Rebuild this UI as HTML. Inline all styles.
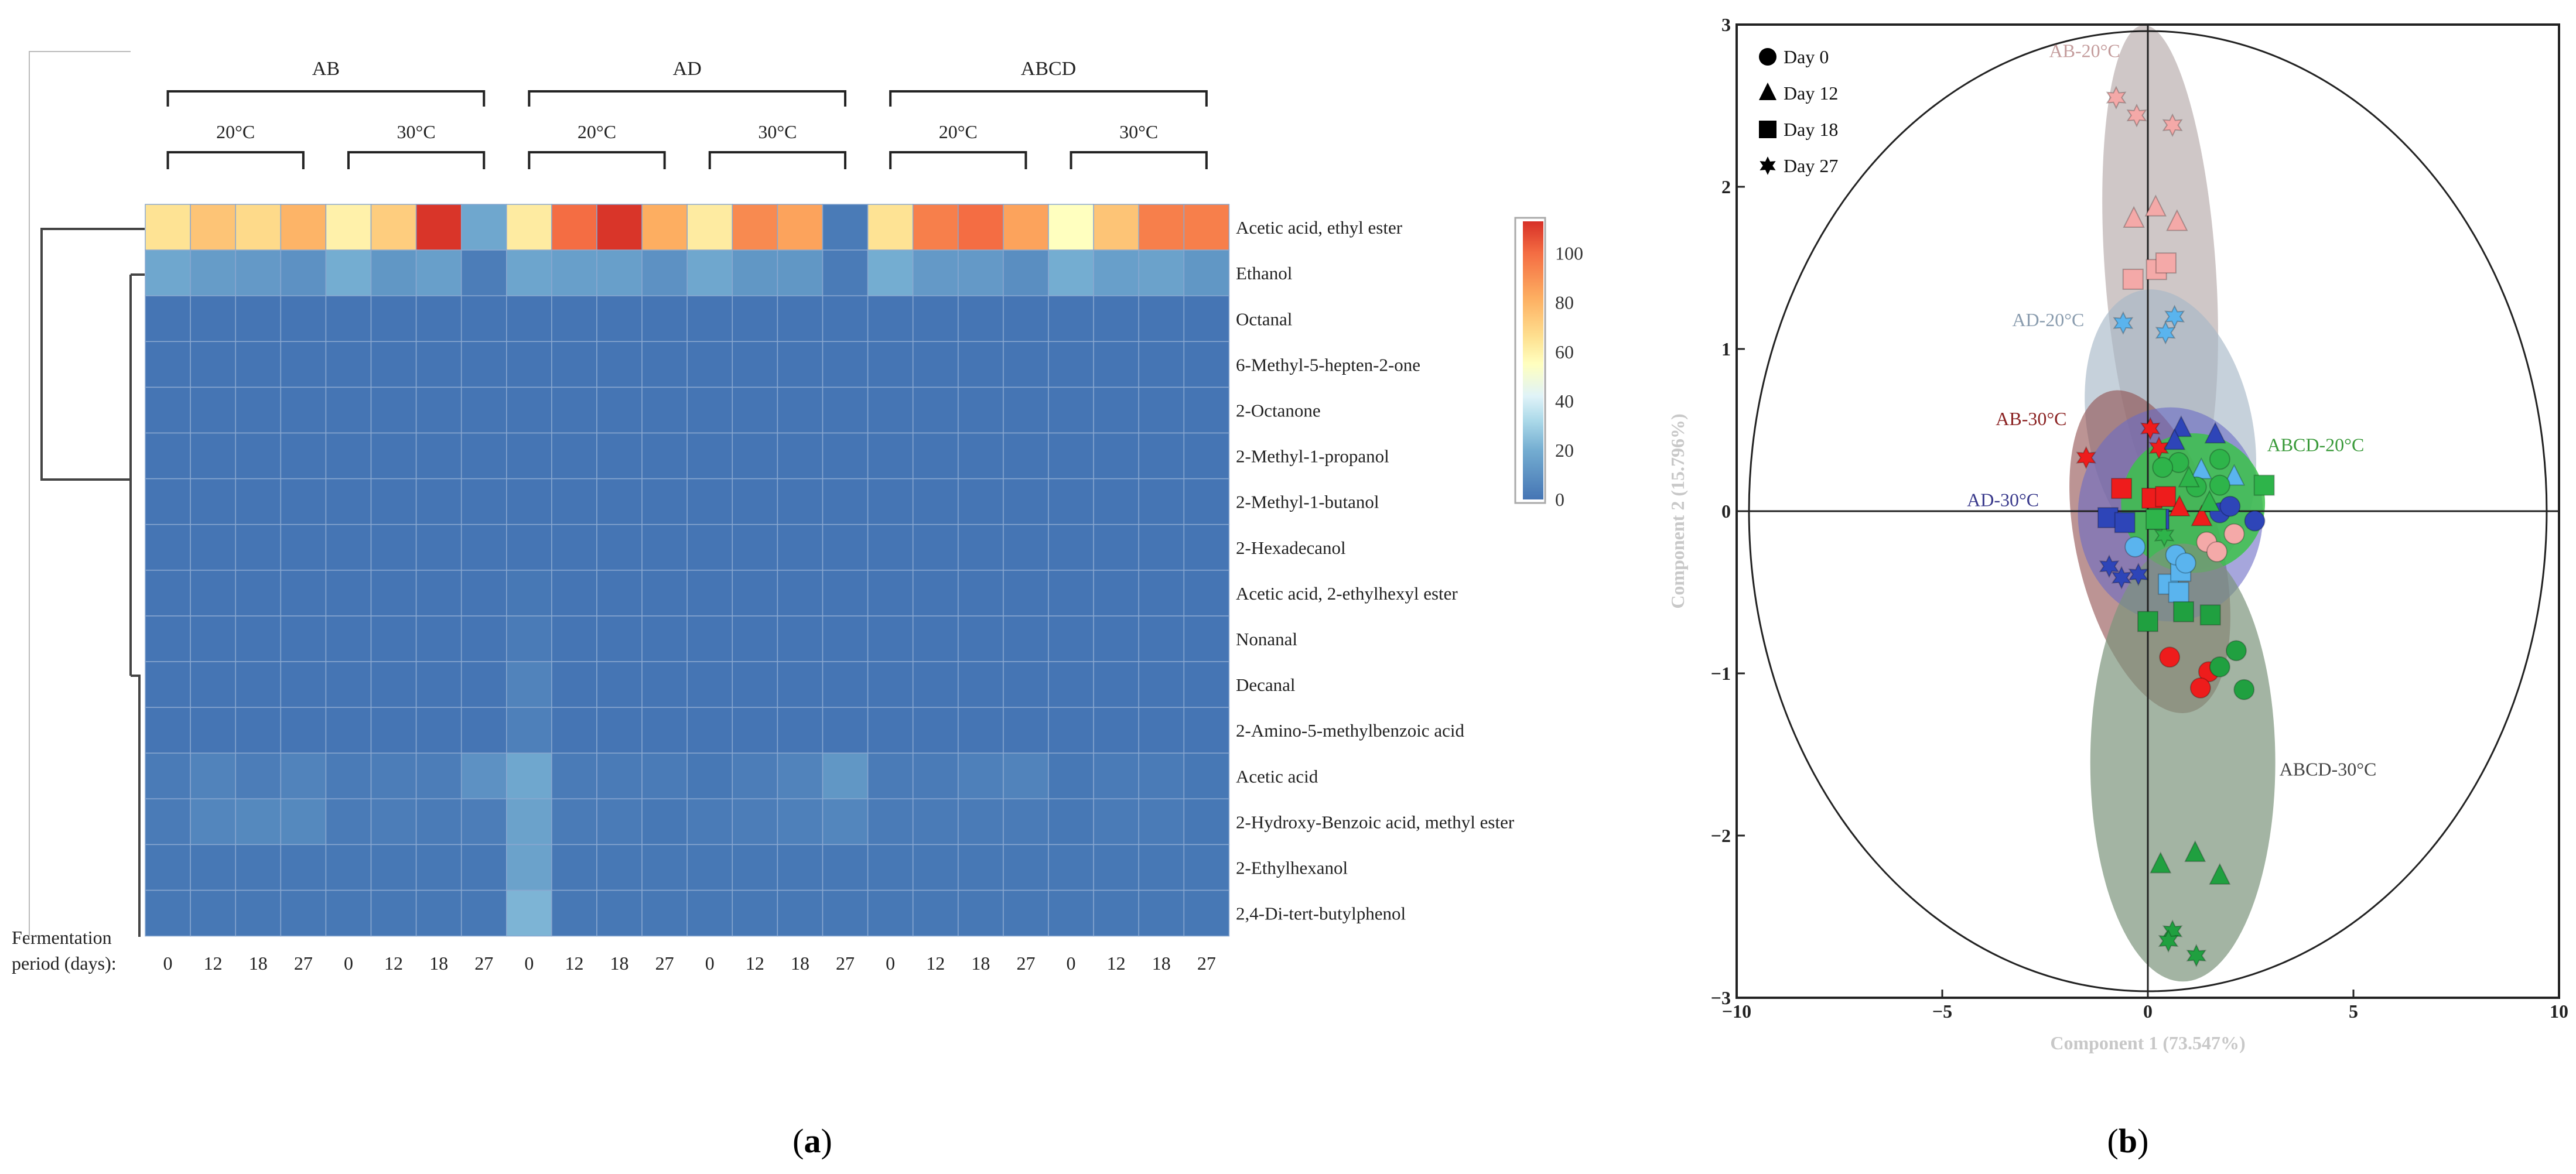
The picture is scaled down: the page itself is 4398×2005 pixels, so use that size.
<!DOCTYPE html>
<html><head><meta charset="utf-8"><style>
html,body{margin:0;padding:0;background:#fff}
svg{display:block}
text{font-family:"Liberation Serif",serif}
</style></head><body>
<svg id="fig" width="4398" height="2005" viewBox="0 0 4398 2005" xmlns="http://www.w3.org/2000/svg">
<g id="heat"></g>
<g id="pca"></g>
<text x="1387" y="1968" font-size="58" text-anchor="middle">(<tspan font-weight="bold">a</tspan>)</text>
<text x="3633" y="1968" font-size="58" text-anchor="middle">(<tspan font-weight="bold">b</tspan>)</text>
</svg>
<script>
const compounds=["Acetic acid, ethyl ester","Ethanol","Octanal","6-Methyl-5-hepten-2-one","2-Octanone","2-Methyl-1-propanol","2-Methyl-1-butanol","2-Hexadecanol","Acetic acid, 2-ethylhexyl ester","Nonanal","Decanal","2-Amino-5-methylbenzoic acid","Acetic acid","2-Hydroxy-Benzoic acid, methyl ester","2-Ethylhexanol","2,4-Di-tert-butylphenol"];
const days=["0","12","18","27","0","12","18","27","0","12","18","27","0","12","18","27","0","12","18","27","0","12","18","27"];
const groups=["AB","AD","ABCD"];
const temps=["20\u00b0C","30\u00b0C","20\u00b0C","30\u00b0C","20\u00b0C","30\u00b0C"];
const heatValues=[
[65,75,68,80,60,72,112,18,62,100,112,82,62,92,85,2,65,95,100,85,55,75,95,95],
[18,14,13,10,20,12,15,3,17,15,15,10,18,12,12,2,20,13,13,9,20,15,16,12],
[0,0,0,0,0,0,0,0,0,0,0,0,0,0,0,0,0,0,0,0,0,0,0,0],
[0,0,0,0,0,0,0,0,0,0,0,0,0,0,0,0,0,0,0,0,0,0,0,0],
[0,0,0,0,0,0,0,0,0,0,0,0,0,0,0,0,0,0,0,0,0,0,0,0],
[0,0,0,0,0,0,0,0,0,0,0,0,0,0,0,0,0,0,0,0,0,0,0,0],
[0,0,0,0,0,0,0,0,0,0,0,0,0,0,0,0,0,0,0,0,0,0,0,0],
[0,0,0,0,0,0,0,0,0,0,0,0,0,0,0,0,0,0,0,0,0,0,0,0],
[0,0,0,0,0,0,0,0,1,0,0,0,0,0,0,0,0,0,0,0,0,0,0,0],
[0,0,0,0,0,0,0,0,2,0,0,0,0,0,0,0,0,0,0,0,0,0,0,0],
[0,0,0,0,0,0,0,0,5,0,0,0,0,0,0,0,0,0,0,0,0,0,0,0],
[0,0,0,0,0,0,0,0,4,0,0,0,0,0,0,0,0,0,0,0,0,0,0,0],
[2,5,3,5,2,3,3,10,18,2,2,2,1,3,5,12,2,2,4,5,1,2,2,1],
[2,6,7,7,2,3,2,3,16,2,2,1,2,3,4,6,2,2,2,2,1,2,2,1],
[1,1,1,1,1,1,1,1,16,1,1,1,1,1,1,1,1,1,1,1,1,1,1,1],
[1,1,1,1,1,1,1,1,22,1,1,1,1,1,1,1,1,1,1,1,1,1,1,1]];
const cbTicks=[0,20,40,60,80,100];
const xTicks=[-10,-5,0,5,10];
const yTicks=[-3,-2,-1,0,1,2,3];
const legendLabels=["Day 0","Day 12","Day 18","Day 27"];
const groupNames=["AB-20","AD-20","AB-30","AD-30","ABCD-20","ABCD-30"];
const groupColors=["#f4a9a8","#5ab4ee","#ee1c1c","#2e45b8","#2eb44a","#20a040"];
const pcaX=[-0.77,-0.27,0.6,-0.34,0.19,0.71,-0.36,0.21,0.44,1.43,1.68,2.1,
-0.6,0.43,0.65,1.3,2.1,0.5,0.8,0.75,-0.31,0.68,0.92,
-1.5,0.06,0.27,-0.64,0.1,0.43,0.77,1.31,0.53,1.48,1.28,
0.81,0.65,1.64,-0.97,-0.56,0.27,1.75,2.0,2.6,-0.94,-0.64,-0.23,
0.75,1.75,1.18,1.75,0.36,2.83,1.5,0.4,1.0,0.2,
0,0.87,1.52,2.15,1.75,2.34,0.31,1.15,1.75,0.6,0.5,1.18];
const pcaY=[2.55,2.44,2.38,1.80,1.87,1.78,1.43,1.49,1.53,-0.19,-0.25,-0.14,
1.16,1.10,1.2,0.25,0.21,-0.45,-0.37,-0.5,-0.22,-0.27,-0.32,
0.33,0.51,0.39,0.14,0.08,0.09,0.02,-0.04,-0.9,-0.99,-1.09,
0.51,0.43,0.47,-0.04,-0.07,-0.05,-0.01,0.03,-0.06,-0.34,-0.41,-0.39,
0.3,0.32,0.15,0.16,0.27,0.16,0.05,-0.15,0.2,-0.05,
-0.68,-0.62,-0.64,-0.86,-0.96,-1.1,-2.18,-2.11,-2.25,-2.59,-2.65,-2.74];
const pcaShape=[3,3,3,1,1,1,2,2,2,0,0,0,
3,3,3,1,1,2,2,2,0,0,0,
3,3,3,2,2,2,1,1,0,0,0,
1,1,1,2,2,2,0,0,0,3,3,3,
0,0,0,0,0,2,1,3,1,2,
2,2,2,0,0,0,1,1,1,3,3,3];
const pcaGroup=[0,0,0,0,0,0,0,0,0,0,0,0,
1,1,1,1,1,1,1,1,1,1,1,
2,2,2,2,2,2,2,2,2,2,2,
3,3,3,3,3,3,3,3,3,3,3,3,
4,4,4,4,4,4,4,4,4,4,
5,5,5,5,5,5,5,5,5,5,5,5];
const ellCx=[0.3,0.55,0.05,0.55,1.1,0.85];
const ellCy=[1.5,0.5,-0.25,-0.02,0.05,-1.55];
const ellRx=[1.35,2.0,1.75,2.25,1.75,2.25];
const ellRy=[1.5,0.88,1.02,0.66,0.43,1.35];
const ellRot=[-4,-12,-14,0,0,0];
const ellFill=["#bfb4b4","#a7b8c7","#8f4c4c","#6a6ac4","#3cc24a","#7c947c"];
const ellOp=[0.75,0.65,0.6,0.6,0.85,0.7];
const ellLabels=["AB-20\u00b0C","AD-20\u00b0C","AB-30\u00b0C","AD-30\u00b0C","ABCD-20\u00b0C","ABCD-30\u00b0C"];
const ellLabelX=[-2.4,-3.3,-3.7,-4.4,2.9,3.2];
const ellLabelY=[2.8,1.14,0.53,0.03,0.37,-1.63];
const ellLabelColor=["#c49c9c","#8a9cae","#8b2323","#3a3a8c","#3a9a3a","#444"];

const NS="http://www.w3.org/2000/svg";
function mk(tag,attrs,parent,txt){const e=document.createElementNS(NS,tag);for(const k in attrs)e.setAttribute(k,attrs[k]);if(txt!==undefined)e.textContent=txt;parent.appendChild(e);return e;}
const stops=[[0,[69,117,180]],[20,[116,173,209]],[32,[171,217,233]],[42,[224,243,248]],[55,[255,255,191]],[66,[254,224,144]],[82,[253,174,97]],[100,[244,109,67]],[113,[215,48,39]]];
function col(v){for(let i=1;i<stops.length;i++){if(v<=stops[i][0]){const a=stops[i-1],b=stops[i];const t=(v-a[0])/(b[0]-a[0]);const c=a[1].map((x,j)=>Math.round(x+(b[1][j]-x)*t));return `rgb(${c})`;}}return "rgb(215,48,39)";}

const H=document.getElementById('heat');
const hx0=248,hy0=349,cw=77.1,ch=78.1;
const cx=i=>hx0+cw*i, ry=j=>hy0+ch*j;
heatValues.forEach((row,j)=>row.forEach((v,i)=>{
 const r=mk('rect',{x:cx(i),y:ry(j),width:cw,height:ch,fill:col(v),stroke:"#8aa8d0","stroke-width":1.5},H);
 
 
}));
compounds.forEach((c,j)=>{
 const t=mk('text',{x:2110,y:ry(j)+ch/2+11,"font-size":31,fill:"#222"},H,c);
 
 
});
days.forEach((d,i)=>{
 const t=mk('text',{x:cx(i)+cw/2,y:1656,"font-size":32,"text-anchor":"middle",fill:"#222"},H,d);
 
 
});
let tf=mk('text',{x:20,y:1612,"font-size":32,fill:"#222"},H,"Fermentation");


tf=mk('text',{x:20,y:1656,"font-size":32,fill:"#222"},H,"period (days):");


groups.forEach((g,k)=>{
 const a=cx(k*8)+cw/2,b=cx(k*8+7)+cw/2;
 const p=mk('path',{d:`M${a},182V156H${b}V182`,fill:"none",stroke:"#222","stroke-width":4},H);
 
 
 const t=mk('text',{x:(a+b)/2,y:128,"font-size":34,"text-anchor":"middle",fill:"#222"},H,g);
 
 
});
temps.forEach((g,k)=>{
 const a=cx(k*4)+cw/2,b=cx(k*4+3)+cw/2;
 const p=mk('path',{d:`M${a},289V260H${b}V289`,fill:"none",stroke:"#222","stroke-width":4},H);
 
 
 const t=mk('text',{x:(a+b)/2,y:236,"font-size":32,"text-anchor":"middle",fill:"#222"},H,g);
 
 
});
const dpaths=["M50,1603V88H223","M247,391H71V819H223","M223,469V1154","M223,469H247","M223,1154H238V1380","M238,1160V1600"];
dpaths.forEach((d,k)=>{
 const p=mk('path',{d:d,fill:"none",stroke:k==0?"#bbb":"#444","stroke-width":k==0?2:4},H);
 
 
});
const defs=mk('defs',{},H);
const lg=mk('linearGradient',{id:"cbg",x1:0,y1:1,x2:0,y2:0},defs);
stops.forEach(s=>mk('stop',{offset:(s[0]/113),"stop-color":col(s[0])},lg));
const cbTop=378,cbBot=853,cbY=v=>cbBot-(cbBot-cbTop)*v/113;
let cbf=mk('rect',{x:2587,y:372,width:51,height:487,fill:"none",stroke:"#aaa","stroke-width":3},H);


let cb=mk('rect',{x:2600,y:cbTop,width:35,height:cbBot-cbTop,fill:"url(#cbg)"},H);


cbTicks.forEach(v=>{
 const t=mk('text',{x:2655,y:cbY(v)+11,"font-size":32,fill:"#333"},H,String(v));
 
 
});

const P=document.getElementById('pca');
const X=v=>3667+70.2*v, Y=v=>873-277*v;
ellCx.forEach((c,k)=>{
 const e=mk('ellipse',{cx:X(c),cy:Y(ellCy[k]),rx:ellRx[k]*70.2,ry:ellRy[k]*277,fill:ellFill[k],"fill-opacity":ellOp[k],transform:`rotate(${ellRot[k]} ${X(c)} ${Y(ellCy[k])})`},P);
 
 
});
let bc=mk('ellipse',{cx:X(0),cy:Y(0),rx:9.7*70.2,ry:2.96*277,fill:"none",stroke:"#222","stroke-width":3},P);


let fr=mk('path',{d:`M${X(-10)},${Y(3)}H${X(10)}V${Y(-3)}H${X(-10)}Z`,fill:"none",stroke:"#222","stroke-width":4},P);


let z1=mk('line',{x1:X(-10),x2:X(10),y1:Y(0),y2:Y(0),stroke:"#222","stroke-width":3},P);


let z2=mk('line',{x1:X(0),x2:X(0),y1:Y(3),y2:Y(-3),stroke:"#222","stroke-width":3},P);


function shape(s,x,y,r,fill,stroke,parent){
 let e;
 if(s==0)e=mk('circle',{cx:x,cy:y,r:r},parent);
 else if(s==1)e=mk('polygon',{points:`${x},${y-r*1.2} ${x+r},${y+r*0.8} ${x-r},${y+r*0.8}`},parent);
 else if(s==2)e=mk('rect',{x:x-r,y:y-r,width:2*r,height:2*r},parent);
 else{let pts=[];for(let i=0;i<12;i++){const a=Math.PI*i/6-Math.PI/2;const rr=i%2?r*0.55:r*1.05;pts.push((x+rr*Math.cos(a)).toFixed(1)+","+(y+rr*Math.sin(a)).toFixed(1));}e=mk('polygon',{points:pts.join(' ')},parent);}
 e.setAttribute('fill',fill);if(stroke){e.setAttribute('stroke',stroke);e.setAttribute('stroke-width',2);}
 return e;
}
pcaX.forEach((v,k)=>{
 const e=shape(pcaShape[k],X(v),Y(pcaY[k]),17,groupColors[pcaGroup[k]],"rgba(0,0,0,0.25)",P);
 
 
});
ellLabels.forEach((l,k)=>{
 const t=mk('text',{x:X(ellLabelX[k]),y:Y(ellLabelY[k]),"font-size":32,fill:ellLabelColor[k]},P,l);
 
 
});
xTicks.forEach(v=>{
 const l=mk('line',{x1:X(v),x2:X(v),y1:Y(-3),y2:Y(-3)-14,stroke:"#222","stroke-width":3},P);
 
 
 const t=mk('text',{x:X(v),y:1738,"font-size":32,"font-weight":"bold","text-anchor":"middle",fill:"#222"},P,v<0?"\u2212"+(-v):String(v));
 
 
});
yTicks.forEach(v=>{
 const l=mk('line',{x1:X(-10),x2:X(-10)+14,y1:Y(v),y2:Y(v),stroke:"#222","stroke-width":3},P);
 
 
 const t=mk('text',{x:X(-10)-10,y:Y(v)+11,"font-size":32,"font-weight":"bold","text-anchor":"end",fill:"#222"},P,v<0?"\u2212"+(-v):String(v));
 
 
});
let xt=mk('text',{x:X(0),y:1792,"font-size":32,"font-weight":"bold","text-anchor":"middle",fill:"#c8c8c8"},P,"Component 1 (73.547%)");


let yt=mk('text',{x:2875,y:Y(0),"font-size":32,"font-weight":"bold","text-anchor":"middle",fill:"#c8c8c8",transform:`rotate(-90 2875 ${Y(0)})`},P,"Component 2 (15.796%)");


legendLabels.forEach((l,k)=>{
 const y=97+62*k;
 const m=shape(k,3018,y,15,"#000",null,P);
 
 
 const t=mk('text',{x:3045,y:y+11,"font-size":32,fill:"#111"},P,l);
 
 
});
</script>
</body></html>
